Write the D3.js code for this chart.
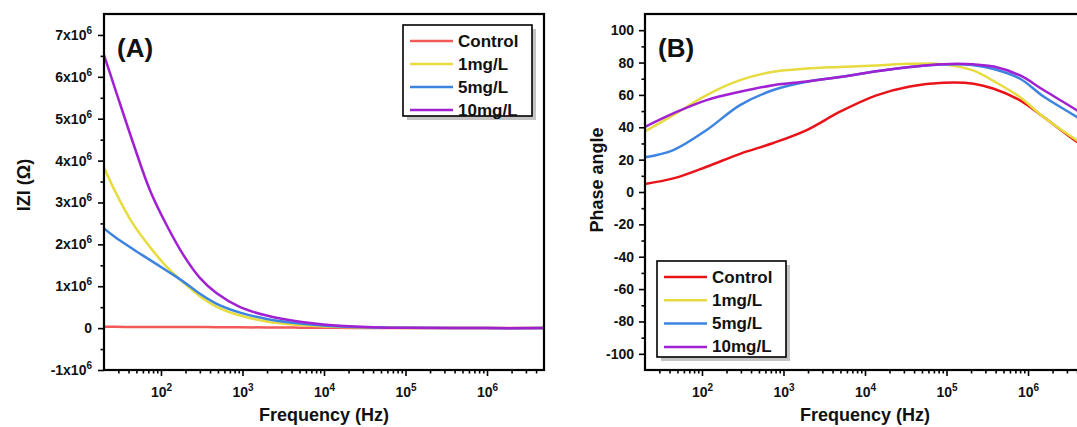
<!DOCTYPE html>
<html><head><meta charset="utf-8">
<script src="https://cdn.jsdelivr.net/npm/d3@7"></script>
<style>
body{margin:0;background:#fff;}
svg{display:block;font-family:"Liberation Sans",Arial,sans-serif;font-weight:bold;}
</style></head><body><svg id="chart" width="1077" height="427"></svg>
<script>
// ---------- data ----------
const seriesNames = ["Control", "1mg/L", "5mg/L", "10mg/L"];
const xMajorTicks = [1e2, 1e3, 1e4, 1e5, 1e6];
const yTicksA = [-1e6, 0, 1e6, 2e6, 3e6, 4e6, 5e6, 6e6, 7e6];
const yTicksB = [-100, -80, -60, -40, -20, 0, 20, 40, 60, 80, 100];

// Panel A: |Z| (ohm) vs frequency (Hz)
const freqA = [20, 27, 45, 73, 118, 188, 300, 483, 935, 1980, 5080, 14000, 50000, 1e5, 1e6, 5e6];
const zControl = [30000, 30000, 29000, 28000, 27000, 26000, 25000, 23000, 20000, 16000, 11000, 6000, 2000, 1000, 0, 0];
const z1mg  = [3.84e6, 3.29e6, 2.50e6, 1.94e6, 1.46e6, 1.09e6, 0.76e6, 0.51e6, 0.30e6, 0.16e6, 0.075e6, 0.03e6, 0.01e6, 0.005e6, 0, 0];
const z5mg  = [2.38e6, 2.18e6, 1.89e6, 1.63e6, 1.37e6, 1.11e6, 0.82e6, 0.58e6, 0.37e6, 0.22e6, 0.11e6, 0.045e6, 0.013e6, 0.007e6, 0, 0];
const z10mg = [6.52e6, 5.75e6, 4.45e6, 3.30e6, 2.45e6, 1.75e6, 1.20e6, 0.83e6, 0.50e6, 0.30e6, 0.15e6, 0.06e6, 0.015e6, 0.008e6, 0, 0];

// Panel B: phase angle (deg) vs frequency (Hz)
const freqB = [20, 44.5, 114, 293, 750, 1930, 4940, 13800, 35500, 91000, 215000, 380000, 800000, 1.55e6, 4e6, 5e6];
const phControl = [5.0, 8.4, 15.6, 23.6, 30.3, 38.3, 49.6, 59.7, 65.2, 67.5, 66.9, 63.8, 56.6, 46.3, 30.9, 28.0];
const ph1mg  = [37.5, 47.5, 59.9, 69.1, 74.3, 76.3, 77.3, 78.2, 79.2, 79.0, 75.0, 68.5, 58.6, 46.3, 31.9, 29.0];
const ph5mg  = [21.4, 25.9, 38.3, 53.7, 63.0, 68.1, 71.0, 74.6, 77.2, 78.8, 78.4, 76.0, 70.0, 59.0, 46.3, 43.0];
const ph10mg = [40.3, 48.6, 56.8, 61.9, 66.0, 68.3, 71.0, 74.6, 77.2, 79.0, 78.9, 77.5, 72.0, 63.0, 50.4, 47.0];

const colorsA = ["#f25a5a", "#e6dc40", "#3d84e0", "#a020d2"];
const colorsB = ["#e8141a", "#e6dc40", "#3d84e0", "#a020d2"];

// ---------- drawing ----------
const svg = d3.select("#chart");
svg.append("rect").attr("width", 1077).attr("height", 427).attr("fill", "#fff");

function minorLogTicks(domain) {
  const out = [];
  for (let d = 1; d <= 1e7; d *= 10) {
    for (let m = 2; m <= 9; m++) {
      const v = m * d;
      if (v > domain[0] && v < domain[1]) out.push(v);
    }
  }
  return out;
}

function setSup(textSel, base, exp) {
  textSel.text(null);
  textSel.append("tspan").text(base);
  if (exp !== null) textSel.append("tspan").attr("dy", -6).attr("font-size", 10).text(exp);
}

function panel(opts) {
  const g = svg.append("g");
  const x = d3.scaleLog().domain([20, 5e6]).range([opts.left, opts.left + 440]);
  const y = d3.scaleLinear().domain(opts.yDomain).range([370, 14]);

  g.append("defs").append("clipPath").attr("id", "clip" + opts.id)
    .append("rect").attr("x", opts.left).attr("y", 14).attr("width", 440).attr("height", 356);

  // lines
  const line = d3.line().x(d => x(d[0])).y(d => y(d[1])).curve(d3.curveCatmullRom.alpha(0.5));
  opts.series.forEach((vals, i) => {
    g.append("path")
      .datum(opts.freq.map((f, k) => [f, vals[k]]))
      .attr("clip-path", "url(#clip" + opts.id + ")")
      .attr("fill", "none")
      .attr("stroke", opts.colors[i])
      .attr("stroke-width", 2.5)
      .attr("d", line);
  });

  // x axis major
  const xa = g.append("g").attr("transform", "translate(0,370)")
    .call(d3.axisBottom(x).tickValues(xMajorTicks).tickSize(6).tickPadding(11).tickFormat(d => d));
  xa.select(".domain").remove();
  xa.selectAll(".tick line").attr("stroke", "#000").attr("stroke-width", 1.6);
  xa.selectAll(".tick text").attr("font-size", 14).attr("font-weight", "bold").attr("fill", "#111")
    .each(function(d) { setSup(d3.select(this), "10", String(Math.round(Math.log10(d)))); });
  // x axis minor
  const xm = g.append("g").attr("transform", "translate(0,370)")
    .call(d3.axisBottom(x).tickValues(minorLogTicks([20, 5e6])).tickSize(3.5).tickFormat(""));
  xm.select(".domain").remove();
  xm.selectAll(".tick line").attr("stroke", "#000").attr("stroke-width", 1.6);

  // y axis major
  const ya = g.append("g").attr("transform", `translate(${opts.left},0)`)
    .call(d3.axisLeft(y).tickValues(opts.yTicks).tickSize(6).tickPadding(opts.yPad).tickFormat(d => d));
  ya.select(".domain").remove();
  ya.selectAll(".tick line").attr("stroke", "#000").attr("stroke-width", 1.6);
  ya.selectAll(".tick text").attr("font-size", 14).attr("font-weight", "bold").attr("fill", "#111")
    .each(function(d) { opts.yFmt(d3.select(this), d); });
  // y axis minor
  const ym = g.append("g").attr("transform", `translate(${opts.left},0)`)
    .call(d3.axisLeft(y).tickValues(opts.yMinor).tickSize(3.5).tickFormat(""));
  ym.select(".domain").remove();
  ym.selectAll(".tick line").attr("stroke", "#000").attr("stroke-width", 1.6);

  // frame
  g.append("rect").attr("x", opts.left).attr("y", 14).attr("width", 440).attr("height", 356)
    .attr("fill", "none").attr("stroke", "#000").attr("stroke-width", 2.2);

  // panel letter
  g.append("text").attr("x", opts.left + 13).attr("y", 57).attr("font-size", 26)
    .attr("fill", "#111").text(opts.letter);

  // axis titles
  g.append("text").attr("x", opts.left + 220).attr("y", 421).attr("text-anchor", "middle")
    .attr("font-size", 18).attr("fill", "#111").text("Frequency (Hz)");
  g.append("text").attr("transform", `translate(${opts.yTitleX},${opts.yTitleY}) rotate(-90)`)
    .attr("text-anchor", "middle").attr("dominant-baseline", "central")
    .attr("font-size", 18).attr("fill", "#111").text(opts.yTitle);

  // legend
  const L = opts.legend;
  const lg = g.append("g");
  lg.append("rect").attr("x", L.x + 4).attr("y", L.y + 4).attr("width", L.w).attr("height", L.h).attr("fill", "#c4c4c4");
  lg.append("rect").attr("x", L.x).attr("y", L.y).attr("width", L.w).attr("height", L.h)
    .attr("fill", "#fff").attr("stroke", "#000").attr("stroke-width", 1.6);
  seriesNames.forEach((name, i) => {
    const yy = L.y + 16 + i * L.step;
    lg.append("line").attr("x1", L.x + 7).attr("x2", L.x + 50).attr("y1", yy).attr("y2", yy)
      .attr("stroke", opts.colors[i]).attr("stroke-width", 2.5);
    lg.append("text").attr("x", L.x + 55).attr("y", yy).attr("dominant-baseline", "central")
      .attr("font-size", 17).attr("fill", "#111").text(name);
  });
}

panel({
  id: "A", left: 104, letter: "(A)",
  yDomain: [-1e6, 7.5e6], yTicks: yTicksA,
  yMinor: [-0.5e6, 0.5e6, 1.5e6, 2.5e6, 3.5e6, 4.5e6, 5.5e6, 6.5e6],
  yPad: 6,
  yFmt: (sel, d) => { if (d === 0) setSup(sel, "0", null); else setSup(sel, (d / 1e6) + "x10", "6"); },
  freq: freqA, series: [zControl, z1mg, z5mg, z10mg], colors: colorsA,
  yTitle: "IZI (\u03A9)", yTitleX: 24, yTitleY: 185,
  legend: { x: 403, y: 25, w: 129, h: 91, step: 23 }
});

panel({
  id: "B", left: 645, letter: "(B)",
  yDomain: [-110, 110], yTicks: yTicksB,
  yMinor: [-90, -70, -50, -30, -10, 10, 30, 50, 70, 90],
  yPad: 5,
  yFmt: (sel, d) => setSup(sel, String(d), null),
  freq: freqB, series: [phControl, ph1mg, ph5mg, ph10mg], colors: colorsB,
  yTitle: "Phase angle", yTitleX: 597, yTitleY: 180,
  legend: { x: 657, y: 261, w: 129, h: 96, step: 23.3 }
});
</script></body></html>
